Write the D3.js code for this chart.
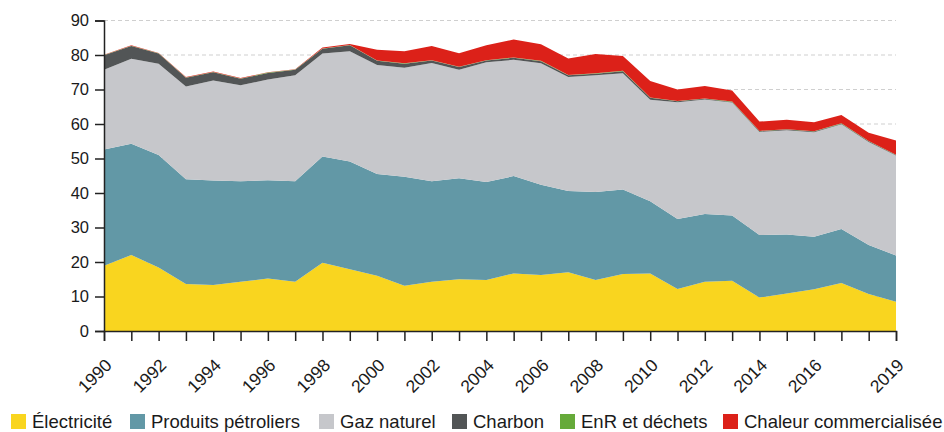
<!DOCTYPE html>
<html>
<head>
<meta charset="utf-8">
<script src="https://cdn.jsdelivr.net/npm/d3@7"></script>
<style>
  body { margin: 0; background: #fff; }
  svg { font-family: "Liberation Sans", Arial, sans-serif; }
</style>
</head>
<body>
<svg id="chart"></svg>
<script>
  const width = 944;
  const height = 432;

  // years and series
  const years = d3.range(1990, 2020);
  const electricite = [18.9, 22.0, 18.4, 13.6, 13.3, 14.3, 15.2, 14.3, 19.8, 17.9, 16.0, 13.1, 14.3, 15.0, 14.8, 16.7, 16.2, 17.0, 14.8, 16.5, 16.7, 12.2, 14.3, 14.6, 9.7, 10.9, 12.1, 13.9, 10.7, 8.5];
  const petroliers = [33.7, 32.3, 32.6, 30.4, 30.3, 29.1, 28.5, 29.1, 30.8, 31.2, 29.5, 31.6, 29.1, 29.3, 28.4, 28.2, 26.2, 23.6, 25.5, 24.5, 20.9, 20.3, 19.6, 18.9, 18.1, 17.1, 15.2, 15.7, 14.2, 13.4];
  const gaz = [23.1, 24.6, 26.5, 26.9, 29.0, 27.8, 29.2, 30.7, 29.8, 32.0, 31.6, 31.6, 34.3, 31.4, 34.7, 33.7, 35.2, 33.0, 33.8, 33.7, 29.4, 33.8, 33.2, 32.7, 29.9, 30.2, 30.3, 30.3, 29.9, 29.0];
  const charbon = [4.2, 3.7, 2.9, 2.5, 2.4, 1.9, 1.9, 1.6, 1.4, 1.7, 1.2, 1.2, 0.7, 0.8, 0.5, 0.6, 0.6, 0.5, 0.5, 0.6, 0.6, 0.3, 0.2, 0.2, 0.2, 0.2, 0.2, 0.2, 0.2, 0.1];
  const enr = [0.1, 0.1, 0.1, 0.1, 0.1, 0.1, 0.1, 0.1, 0.1, 0.1, 0.1, 0.1, 0.1, 0.1, 0.1, 0.1, 0.1, 0.1, 0.1, 0.1, 0.1, 0.1, 0.1, 0.1, 0.1, 0.1, 0.1, 0.1, 0.1, 0.1];
  const chaleur = [0.1, 0.1, 0.1, 0.1, 0.1, 0.1, 0.1, 0.1, 0.3, 0.3, 3.1, 3.5, 4.1, 3.9, 4.3, 5.2, 4.8, 4.8, 5.6, 4.3, 4.8, 3.3, 3.6, 3.2, 2.7, 2.7, 2.6, 2.4, 2.4, 4.1];

  const yTicks = [0, 10, 20, 30, 40, 50, 60, 70, 80, 90];
  const xLabels = [1990, 1992, 1994, 1996, 1998, 2000, 2002, 2004, 2006, 2008, 2010, 2012, 2014, 2016, 2019];

  const series = [
    { key: "elec", label: "Électricité", values: electricite, color: "#f9d51f" },
    { key: "petr", label: "Produits pétroliers", values: petroliers, color: "#6298a6" },
    { key: "gaz", label: "Gaz naturel", values: gaz, color: "#c6c7cb" },
    { key: "charbon", label: "Charbon", values: charbon, color: "#525556" },
    { key: "enr", label: "EnR et déchets", values: enr, color: "#66aa3a" },
    { key: "chaleur", label: "Chaleur commercialisée", values: chaleur, color: "#dc2119" }
  ];

  const table = years.map((yr, i) => {
    const row = { year: yr };
    series.forEach(s => row[s.key] = s.values[i]);
    return row;
  });

  const svg = d3.select("#chart")
    .attr("width", width)
    .attr("height", height);

  const x = d3.scaleLinear().domain([1990, 2019]).range([104, 896]);
  const y = d3.scaleLinear().domain([0, 90]).range([331, 20.5]);

  // dashed gridlines (behind the areas)
  svg.append("g")
    .selectAll("line")
    .data(yTicks.filter(d => d > 0))
    .join("line")
    .attr("x1", x(1990)).attr("x2", x(2019))
    .attr("y1", d => y(d)).attr("y2", d => y(d))
    .attr("stroke", "#cfcfcf")
    .attr("stroke-width", 1)
    .attr("stroke-dasharray", "4,3");

  const stack = d3.stack().keys(series.map(s => s.key));
  const layers = stack(table);

  const area = d3.area()
    .x(d => x(d.data.year))
    .y0(d => y(d[0]))
    .y1(d => y(d[1]));

  svg.append("g")
    .selectAll("path")
    .data(layers)
    .join("path")
    .attr("d", area)
    .attr("fill", (d, i) => series[i].color);

  // y axis
  const yAxis = svg.append("g")
    .attr("transform", `translate(${x(1990)},0)`)
    .call(d3.axisLeft(y).tickValues(yTicks).tickSize(9).tickPadding(6));
  yAxis.select(".domain").attr("stroke", "#222").attr("stroke-width", 1.5);
  yAxis.selectAll(".tick line").attr("stroke", "#222").attr("stroke-width", 1.5);
  yAxis.selectAll(".tick text")
    .attr("font-size", 16.5)
    .attr("font-family", "Liberation Sans, Arial, sans-serif")
    .attr("fill", "#1a1a1a");

  // x axis
  const xAxis = svg.append("g")
    .attr("transform", `translate(0,${y(0)})`)
    .call(d3.axisBottom(x).tickValues(years).tickSize(10)
      .tickFormat(d => xLabels.includes(d) ? String(d) : ""));
  xAxis.select(".domain").attr("stroke", "#222").attr("stroke-width", 1.5);
  xAxis.selectAll(".tick line").attr("stroke", "#222").attr("stroke-width", 1.5);
  xAxis.selectAll(".tick text")
    .attr("font-size", 17.5)
    .attr("font-family", "Liberation Sans, Arial, sans-serif")
    .attr("fill", "#1a1a1a")
    .attr("text-anchor", "end")
    .attr("dy", "0.35em")
    .attr("transform", "translate(4,31) rotate(-45)")
    .attr("y", 0)
    .attr("x", 0);

  // legend
  const legendX = [11, 130, 319, 452, 560, 723];
  const legend = svg.append("g")
    .selectAll("g")
    .data(series)
    .join("g")
    .attr("transform", (d, i) => `translate(${legendX[i]},414)`);
  legend.append("rect")
    .attr("width", 15).attr("height", 15)
    .attr("fill", d => d.color);
  legend.append("text")
    .attr("x", 21).attr("y", 14)
    .attr("font-size", 18.5)
    .attr("fill", "#1a1a1a")
    .text(d => d.label);
</script>
</body>
</html>
